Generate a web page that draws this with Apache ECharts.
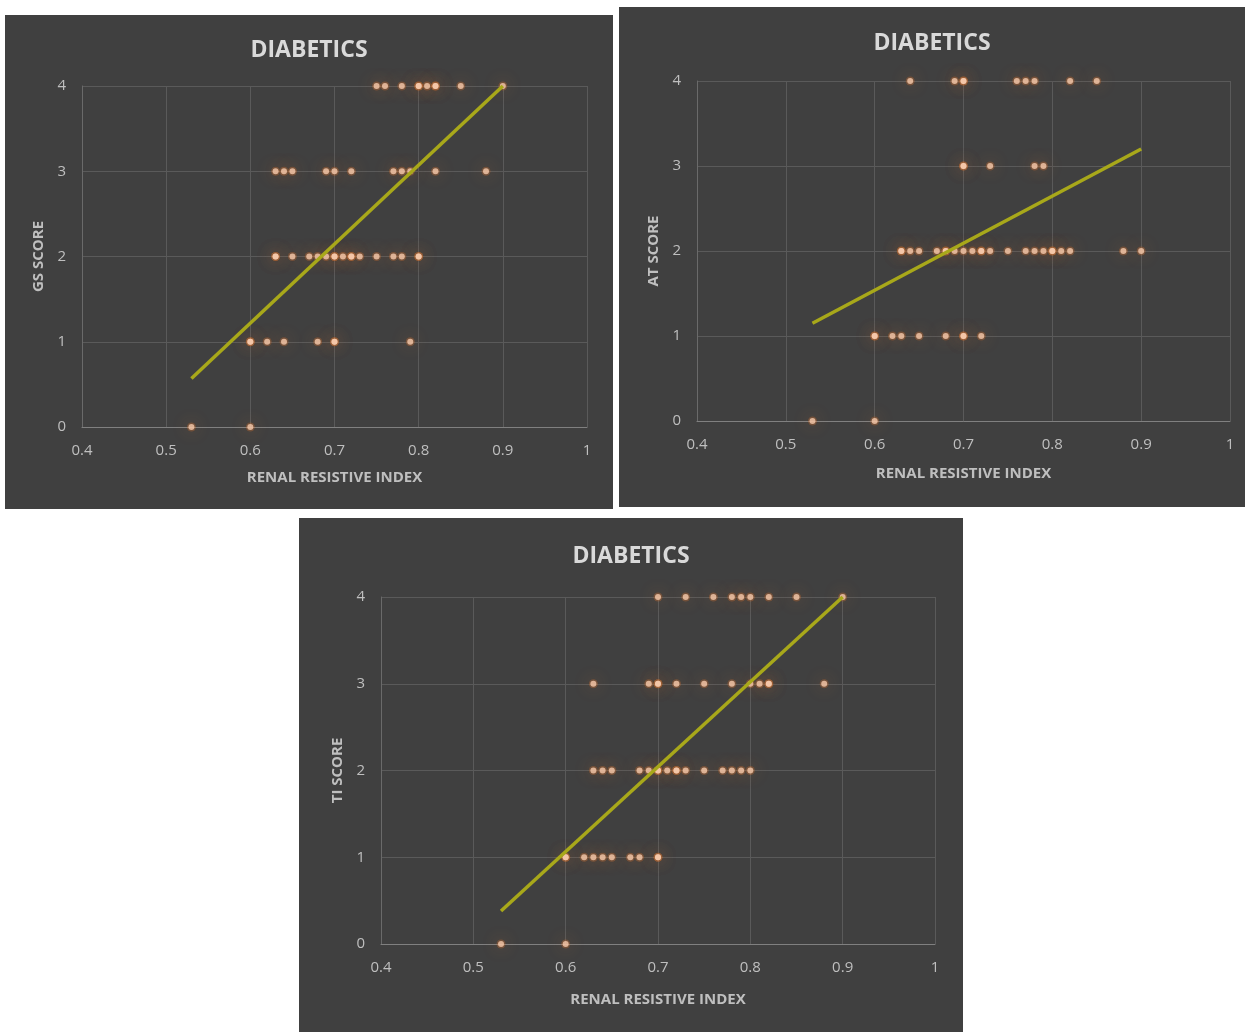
<!DOCTYPE html>
<html>
<head>
<meta charset="utf-8">
<script src="https://cdn.jsdelivr.net/npm/echarts@6/dist/echarts.min.js"></script>
<style>
  html, body { margin: 0; padding: 0; background: #ffffff; }
  body { width: 1245px; height: 1032px; position: relative; overflow: hidden; }
  .panel { position: absolute; background: #404040; }
</style>
</head>
<body>
<div id="gs" class="panel" style="left:5px;top:15px;width:608px;height:494px;"></div>
<div id="at" class="panel" style="left:619px;top:7px;width:626px;height:500px;"></div>
<div id="ti" class="panel" style="left:299px;top:518px;width:664px;height:514px;"></div>
<script>
// renal resistive index values, grouped by score (repeated values = overlapping points)
var gsScore4 = [0.75, 0.76, 0.78, 0.80, 0.80, 0.81, 0.82, 0.82, 0.85, 0.90];
var gsScore3 = [0.63, 0.64, 0.65, 0.69, 0.70, 0.72, 0.77, 0.78, 0.79, 0.82, 0.88];
var gsScore2 = [0.63, 0.63, 0.65, 0.67, 0.68, 0.69, 0.70, 0.70, 0.71, 0.72, 0.72, 0.73, 0.75, 0.77, 0.78, 0.80, 0.80];
var gsScore1 = [0.60, 0.60, 0.62, 0.64, 0.68, 0.70, 0.70, 0.79];
var gsScore0 = [0.53, 0.60];
var gsTrend = [[0.53, 0.57], [0.90, 4.0]];

var atScore4 = [0.64, 0.69, 0.70, 0.70, 0.76, 0.77, 0.78, 0.82, 0.85];
var atScore3 = [0.70, 0.70, 0.73, 0.78, 0.79];
var atScore2 = [0.63, 0.63, 0.64, 0.65, 0.67, 0.68, 0.68, 0.69, 0.70, 0.71, 0.72, 0.72, 0.73, 0.75, 0.77, 0.78, 0.79, 0.80, 0.80, 0.81, 0.82, 0.88, 0.90];
var atScore1 = [0.60, 0.60, 0.62, 0.63, 0.65, 0.68, 0.70, 0.70, 0.72];
var atScore0 = [0.53, 0.60];
var atTrend = [[0.53, 1.15], [0.90, 3.20]];

var tiScore4 = [0.70, 0.73, 0.76, 0.78, 0.79, 0.80, 0.82, 0.85, 0.90];
var tiScore3 = [0.63, 0.69, 0.70, 0.70, 0.72, 0.75, 0.78, 0.80, 0.81, 0.82, 0.82, 0.88];
var tiScore2 = [0.63, 0.64, 0.65, 0.68, 0.69, 0.70, 0.70, 0.71, 0.72, 0.72, 0.73, 0.75, 0.77, 0.78, 0.79, 0.80];
var tiScore1 = [0.60, 0.60, 0.62, 0.63, 0.64, 0.65, 0.67, 0.68, 0.70, 0.70];
var tiScore0 = [0.53, 0.60];
var tiTrend = [[0.53, 0.38], [0.90, 4.0]];

var xTickMin = 0.4, xTickMax = 1, xTickStep = 0.1;
var yTickMin = 0, yTickMax = 4, yTickStep = 1;

var fontFam = '"Open Sans", "Liberation Sans", sans-serif';

function toPoints(rows) {
  var pts = [];
  for (var s = 0; s < rows.length; s++) {
    for (var i = 0; i < rows[s].length; i++) {
      pts.push([rows[s][i], s]);
    }
  }
  return pts;
}

function makeChart(id, yName, rows, trend, grid, titleTop, xGap, yGap) {
  var chart = echarts.init(document.getElementById(id));
  var pts = toPoints(rows);
  chart.setOption({
    backgroundColor: '#404040',
    animation: false,
    title: {
      text: 'DIABETICS',
      left: 'center',
      top: titleTop,
      textStyle: { color: '#d9d9d9', fontSize: 23, fontWeight: 'bold', fontFamily: fontFam }
    },
    grid: grid,
    xAxis: {
      type: 'value',
      min: xTickMin,
      max: xTickMax,
      interval: xTickStep,
      name: 'RENAL RESISTIVE INDEX',
      nameLocation: 'center',
      nameGap: xGap,
      nameTextStyle: { color: '#bfbfbf', fontSize: 15, fontWeight: 'bold', fontFamily: fontFam },
      axisLine: { lineStyle: { color: '#808080', width: 1 } },
      axisTick: { show: false },
      axisLabel: { color: '#bfbfbf', fontSize: 15, margin: 16, fontFamily: fontFam,
        formatter: function (v) { return +v.toFixed(1) + ''; } },
      splitLine: { show: true, lineStyle: { color: '#5a5a5a', width: 1 } }
    },
    yAxis: {
      type: 'value',
      min: yTickMin,
      max: yTickMax,
      interval: yTickStep,
      name: yName,
      nameLocation: 'center',
      nameGap: yGap,
      nameRotate: 90,
      nameTextStyle: { color: '#bfbfbf', fontSize: 15, fontWeight: 'bold', fontFamily: fontFam },
      axisLine: { show: true, lineStyle: { color: '#6a6a6a', width: 1 } },
      axisTick: { show: false },
      axisLabel: { color: '#bfbfbf', fontSize: 15, margin: 16, fontFamily: fontFam },
      splitLine: { show: true, lineStyle: { color: '#5a5a5a', width: 1 } }
    },
    series: [
      {
        // soft orange glow behind each point
        type: 'scatter',
        data: pts,
        symbolSize: 9,
        itemStyle: {
          color: 'rgba(237,125,49,0.35)',
          shadowBlur: 16,
          shadowColor: 'rgba(237,125,49,1)'
        },
        silent: true,
        z: 2
      },
      {
        type: 'scatter',
        data: pts,
        symbolSize: 6,
        itemStyle: { color: '#f8cbad' },
        z: 3
      },
      {
        type: 'line',
        data: trend,
        symbol: 'none',
        lineStyle: { color: '#a8a81a', width: 3.5 },
        z: 4
      }
    ]
  });
  return chart;
}

makeChart('gs', 'GS SCORE', [gsScore0, gsScore1, gsScore2, gsScore3, gsScore4], gsTrend,
  { left: 77, right: 26, top: 71, bottom: 82 }, 19, 43, 33);
makeChart('at', 'AT SCORE', [atScore0, atScore1, atScore2, atScore3, atScore4], atTrend,
  { left: 78, right: 15, top: 74, bottom: 86 }, 20, 45, 34);
makeChart('ti', 'TI SCORE', [tiScore0, tiScore1, tiScore2, tiScore3, tiScore4], tiTrend,
  { left: 82, right: 28, top: 79, bottom: 88 }, 22, 48, 35);
</script>
</body>
</html>
